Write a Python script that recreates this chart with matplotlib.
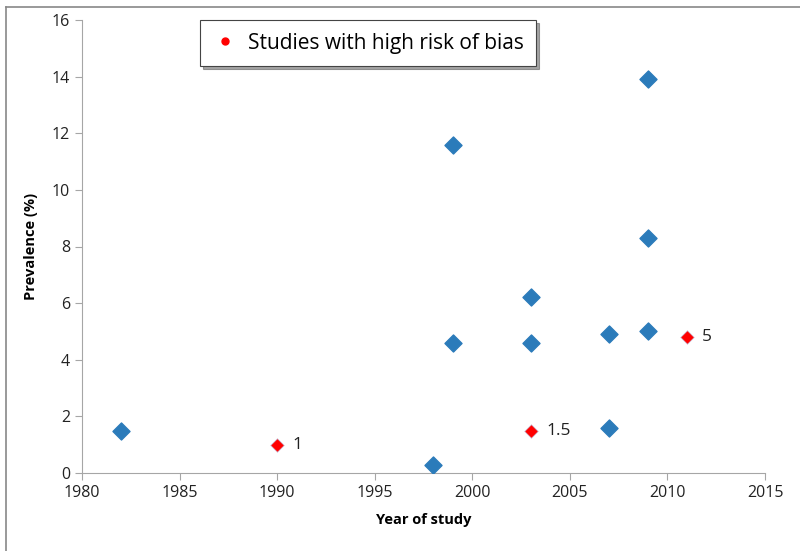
import matplotlib.pyplot as plt
from matplotlib.lines import Line2D

# studies with low risk of bias
years = [1982, 1998, 1999, 1999, 2003, 2003, 2007, 2007, 2009, 2009, 2009]
prev = [1.5, 0.3, 4.6, 11.6, 4.6, 6.2, 4.9, 1.6, 5.0, 8.3, 13.9]

# studies with high risk of bias
hi_years = [1990, 2003, 2011]
hi_prev = [1.0, 1.5, 4.8]
hi_labels = ['1', '1.5', '5']

plt.rcParams['font.family'] = ['Open Sans', 'DejaVu Sans']

fig = plt.figure(figsize=(8, 5.51), dpi=100)
ax = fig.add_axes([82 / 800, 1 - 473 / 551, (765 - 82) / 800, (473 - 20) / 551])

ax.scatter(years, prev, marker='D', s=75, color='#2b7bba', zorder=3)
ax.scatter(hi_years, hi_prev, marker='D', s=48, color='#ff0000',
           edgecolors='#c8c8e0', linewidths=0.5, zorder=3)
for x, y, t in zip(hi_years, hi_prev, hi_labels):
    ax.annotate(t, (x, y), xytext=(11, 0), textcoords='offset points',
                va='center', ha='left', fontsize=12.5, color='#222222')

ax.set_xlim(1980, 2015)
ax.set_ylim(0, 16)
ax.set_xticks(range(1980, 2016, 5))
ax.set_yticks(range(0, 17, 2))
for s in ['top', 'right']:
    ax.spines[s].set_visible(False)
for s in ['left', 'bottom']:
    ax.spines[s].set_color('#a6a6a6')
ax.tick_params(colors='#a6a6a6', labelcolor='#222222', labelsize=11.5,
               length=5, direction='out')
ax.set_xlabel('Year of study', fontsize=10.5, fontweight='bold', labelpad=9)
ax.set_ylabel('Prevalence (%)', fontsize=10.5, fontweight='bold', labelpad=10)

handle = Line2D([], [], marker='o', color='#ff0000', linestyle='none', markersize=5)
leg = fig.legend([handle], ['Studies with high risk of bias'], loc='center',
                 bbox_to_anchor=(368 / 800, 1 - 43 / 551), fontsize=15,
                 frameon=True, fancybox=False, shadow=True, borderpad=0.6,
                 handlelength=1.2, handletextpad=0.5, borderaxespad=0)
leg.get_frame().set_edgecolor('#444444')
leg.get_frame().set_linewidth(0.8)

# outer frame (only left and top visible)
fig.add_artist(Line2D([6 / 800, 6 / 800], [0, 1 - 7 / 551], color='#888888', lw=1.2,
                      transform=fig.transFigure))
fig.add_artist(Line2D([6 / 800, 1], [1 - 7 / 551, 1 - 7 / 551], color='#888888', lw=1.2,
                      transform=fig.transFigure))

fig.savefig('out.png', dpi=100)
